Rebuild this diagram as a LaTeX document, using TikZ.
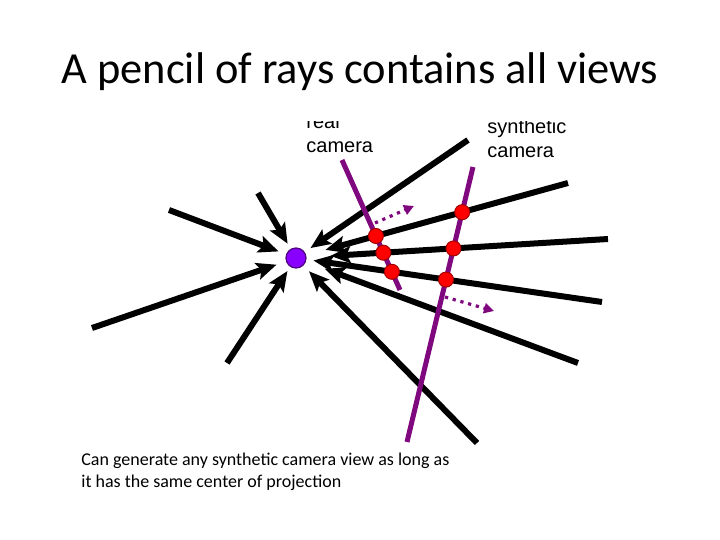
\documentclass[tikz,border=0pt]{standalone}
\usepackage{fontspec}
\setmainfont{Carlito}
\newfontfamily\labelfont{Liberation Sans}
\usetikzlibrary{arrows.meta}
\definecolor{camline}{HTML}{80087F}
\definecolor{hitred}{HTML}{FF0000}
\definecolor{hitedge}{HTML}{A00000}
\definecolor{centre}{HTML}{8A00FF}
\definecolor{centreedge}{HTML}{4A0080}
\tikzset{
  ray/.style={draw=black, line width=3pt, -{Stealth[length=10pt,width=8.5pt,inset=2pt]}},
  camera/.style={draw=camline, line width=2.5pt},
  hit/.style={circle, draw=hitedge, line width=0.5pt, fill=hitred, inner sep=0pt, minimum size=7.5pt},
  proj/.style={circle, draw=centreedge, line width=0.6pt, fill=centre, inner sep=0pt, minimum size=10pt},
  move/.style={draw=camline, line width=1.6pt, dash pattern=on 1.6pt off 2.4pt,
    -{Triangle[length=5pt,width=5pt]}},
  camlabel/.style={font=\labelfont\fontsize{10}{12}\selectfont, align=left, inner sep=0pt, anchor=base west},
  title/.style={font=\fontsize{22.2}{26}\selectfont, inner sep=0pt, anchor=base},
  caption/.style={font=\fontsize{9}{11}\selectfont, align=left, inner sep=0pt, anchor=base west}
}
\begin{document}
\begin{tikzpicture}[x=0.5pt, y=-0.5pt]
  \useasboundingbox (0,0) rectangle (720,540);

  \node[title] (head) at (360,84) {A pencil of rays contains all views};

  \begin{scope}
    \clip (80,122) rectangle (620,446);
    % centre of projection and ray ends
    \node[proj] (c) at (296,258) {};
    \coordinate (s1) at (169,210);
    \coordinate (s2) at (258,193);
    \coordinate (s3) at (92,328);
    \coordinate (s4) at (227,363);
    \coordinate (s5) at (468,140);
    \coordinate (s6) at (568,183);
    \coordinate (s7) at (608,239);
    \coordinate (s8) at (602,302);
    \coordinate (s9) at (578,363);
    \coordinate (s10) at (477,443);
    \foreach \s/\g in {s1/4, s2/3, s3/5, s4/2.5, s5/3.5, s6/10, s7/12, s8/3.5, s9/10, s10/4}
      \draw[ray, shorten >=\g pt] (\s) -- (c);

    % camera planes
    \coordinate (rtop) at (342,160);
    \coordinate (rbot) at (400,290);
    \coordinate (stop) at (473,167);
    \coordinate (sbot) at (407,442);
    \draw[camera] (rtop) -- (rbot);
    \draw[camera] (stop) -- (sbot);

    \node[hit] (r6) at (intersection of s6--c and rtop--rbot) {};
    \node[hit] (r7) at (intersection of s7--c and rtop--rbot) {};
    \node[hit] (r8) at (intersection of s8--c and rtop--rbot) {};
    \node[hit] (y6) at (intersection of s6--c and stop--sbot) {};
    \node[hit] (y7) at (intersection of s7--c and stop--sbot) {};
    \node[hit] (y8) at (intersection of s8--c and stop--sbot) {};

    \coordinate (ra) at (375,223);
    \coordinate (rb) at (414,206);
    \coordinate (sa) at (445,297);
    \coordinate (sb) at (494,311);
    \draw[move] (ra) -- (rb);
    \draw[move] (sa) -- (sb);

    \node[camlabel] (real) at (306,153) {real\\camera};
    \node[camlabel] (synth) at (487,158) {synthetic\\camera};
  \end{scope}

  \node[caption] (note) at (81,488) {Can generate any synthetic camera view as long as\\it has the same center of projection};
\end{tikzpicture}
\end{document}
